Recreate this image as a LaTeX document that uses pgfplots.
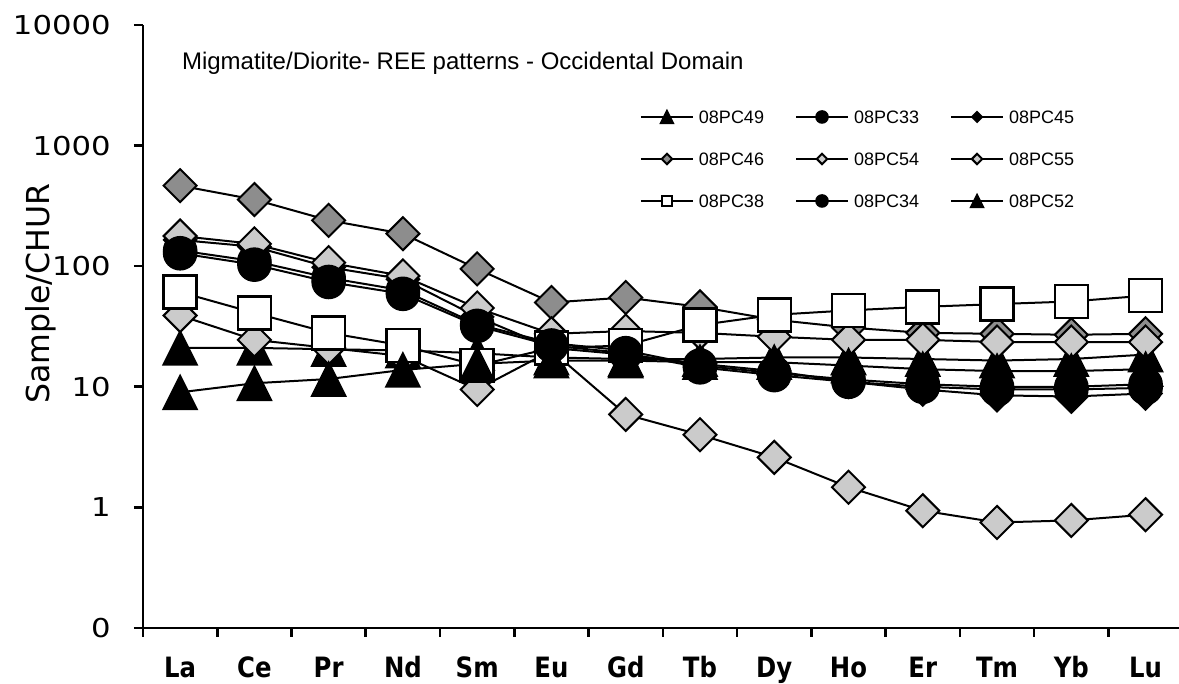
\documentclass[border=0pt]{standalone}
\usepackage{fontspec}
\usepackage{pgfplots}
\usepackage{pgfplotstable}
\pgfplotsset{compat=1.18}
\setmainfont{Liberation Sans}
\newfontfamily\ytickfont[FakeStretch=1.18]{DejaVu Sans}
\newfontfamily\xtickfont[FakeStretch=0.87]{DejaVu Sans Bold}
\newfontfamily\labfont{DejaVu Sans}
\definecolor{dkgray}{RGB}{141,141,141}
\definecolor{ltgray}{RGB}{203,203,203}

\pgfdeclareplotmark{dia}{%
  \pgfpathmoveto{\pgfqpoint{0pt}{\pgfplotmarksize}}%
  \pgfpathlineto{\pgfqpoint{\pgfplotmarksize}{0pt}}%
  \pgfpathlineto{\pgfqpoint{0pt}{-\pgfplotmarksize}}%
  \pgfpathlineto{\pgfqpoint{-\pgfplotmarksize}{0pt}}%
  \pgfpathclose\pgfusepath{fill,stroke}}
\pgfdeclareplotmark{tri}{%
  \pgfpathmoveto{\pgfqpoint{0pt}{\pgfplotmarksize}}%
  \pgfpathlineto{\pgfqpoint{\pgfplotmarksize}{-\pgfplotmarksize}}%
  \pgfpathlineto{\pgfqpoint{-\pgfplotmarksize}{-\pgfplotmarksize}}%
  \pgfpathclose\pgfusepath{fill,stroke}}
\pgfdeclareplotmark{sq}{%
  \pgfpathrectanglecorners{\pgfqpoint{-\pgfplotmarksize}{-\pgfplotmarksize}}{\pgfqpoint{\pgfplotmarksize}{\pgfplotmarksize}}%
  \pgfusepath{fill,stroke}}

\pgfplotsset{
  lg/.style={legend image code/.code={\draw[mark repeat=2,mark phase=2,mark size=#1] plot coordinates {(0pt,0pt) (13pt,0pt) (26pt,0pt)};}},
}

\pgfplotstableread{
x  a49  a33  a45  a46  a54   a55   a38   a34   a52
0  21   135  165  465  39    178   61    128   9
1  21   110  145  357  24.5  153   41    103   10.7
2  20.5 80   98   240  21    107   28    74    11.6
3  20   63   78   186  18    83    22    59    13.8
4  19   33   38   95   9.5   45    15    32    15.5
5  17.5 23   21   50   20    27.5  21    22    16.5
6  17   20   18.5 55   5.9   29    22    19    16.5
7  17   15   15.5 46   4.0   28    32.5  14.5  16
8  17.5 13   13.5 36   2.6   26    39.5  12.5  16
9  17.5 11.5 11   31   1.47  24.5  43    11    15
10 17   10.5 9.5  28   0.94  24.5  46    10    14
11 16.5 10   8.5  27.5 0.75  23.5  48.5  9.5   13.5
12 17   10   8.3  27   0.78  23.5  51    9.5   13.5
13 18.5 10.5 8.8  27.5 0.87  23.5  57    9.8   14
}\ree

\begin{document}
\begin{tikzpicture}
\path[use as bounding box] (0pt,0pt) rectangle (589.5pt,342pt);
\begin{axis}[
  at={(71.5pt,28pt)}, anchor=south west,
  scale only axis, width=518pt, height=301.5pt,
  xmin=-0.5, xmax=13.45, ymode=log, ymin=0.1, ymax=10000,
  axis x line*=bottom, axis y line*=left,
  x axis line style={line width=1.2pt},
  y axis line style={line width=0.7pt},
  tick align=outside,
  major tick length=4.5pt,
  xtick={-0.5,0.5,...,12.5}, xticklabels={},
  extra x ticks={0,1,...,13},
  extra x tick labels={La,Ce,Pr,Nd,Sm,Eu,Gd,Tb,Dy,Ho,Er,Tm,Yb,Lu},
  extra x tick style={major tick length=0pt},
  xtick style={line width=1.3pt, black},
  ytick={0.1,1,10,100,1000,10000},
  yticklabels={0,1,10,100,1000,10000},
  yminorticks=false,
  ytick style={line width=1.3pt, black},
  xticklabel style={font=\xtickfont\fontsize{14}{16}\selectfont, anchor=base, yshift=-25pt, inner sep=0pt},
  yticklabel style={font=\ytickfont\fontsize{13}{15}\selectfont, anchor=east, inner sep=0pt, xshift=-11.5pt},
  ylabel={Sample/CHUR},
  ylabel style={font=\labfont\fontsize{15.8}{18}\selectfont, at={(axis description cs:-0.0985,0.554)}, anchor=center},
  legend columns=3,
  legend cell align=left,
  legend style={draw=none, fill=none, inner sep=0pt, outer sep=0pt,
    at={(0.4797,0.8823)}, anchor=north west,
    font=\fontsize{9}{10}\selectfont,
    nodes={inner sep=0pt, text height=13.7pt, text depth=7.3pt},
    /tikz/every even column/.append style={column sep=15.5pt},
    /tikz/every odd column/.append style={column sep=2.5pt}},
  clip=false,
]
\addplot[black, line width=1pt, mark=tri, mark size=8.5pt, mark options={solid, fill=black, line width=0.8pt}, lg=3.2pt] table[x=x,y=a49]{\ree};
\addlegendentry{08PC49}
\addplot[black, line width=1pt, mark=*, mark size=8.25pt, mark options={solid, fill=black, line width=0.8pt}, lg=3pt] table[x=x,y=a33]{\ree};
\addlegendentry{08PC33}
\addplot[black, line width=1pt, mark=dia, mark size=8.25pt, mark options={solid, fill=black, line width=0.8pt}, lg=2.6pt] table[x=x,y=a45]{\ree};
\addlegendentry{08PC45}
\addplot[black, line width=1pt, mark=dia, mark size=8.25pt, mark options={solid, fill=dkgray, draw=black, line width=1pt}, lg=2.6pt] table[x=x,y=a46]{\ree};
\addlegendentry{08PC46}
\addplot[black, line width=1pt, mark=dia, mark size=8.25pt, mark options={solid, fill=ltgray, draw=black, line width=1pt}, lg=2.6pt] table[x=x,y=a54]{\ree};
\addlegendentry{08PC54}
\addplot[black, line width=1pt, mark=dia, mark size=8.25pt, mark options={solid, fill=ltgray, draw=black, line width=1pt}, lg=2.6pt] table[x=x,y=a55]{\ree};
\addlegendentry{08PC55}
\addplot[black, line width=1pt, mark=sq, mark size=8.25pt, mark options={solid, fill=white, draw=black, line width=1.2pt}, lg=2.6pt] table[x=x,y=a38]{\ree};
\addlegendentry{08PC38}
\addplot[black, line width=1pt, mark=*, mark size=8.25pt, mark options={solid, fill=black, line width=0.8pt}, lg=3pt] table[x=x,y=a34]{\ree};
\addlegendentry{08PC34}
\addplot[black, line width=1pt, mark=tri, mark size=8.5pt, mark options={solid, fill=black, line width=0.8pt}, lg=3.2pt] table[x=x,y=a52]{\ree};
\addlegendentry{08PC52}
\end{axis}
\node[anchor=base west, font=\fontsize{12}{14}\selectfont] at (87.5pt,307pt) {Migmatite/Diorite- REE patterns - Occidental Domain};
\end{tikzpicture}
\end{document}
